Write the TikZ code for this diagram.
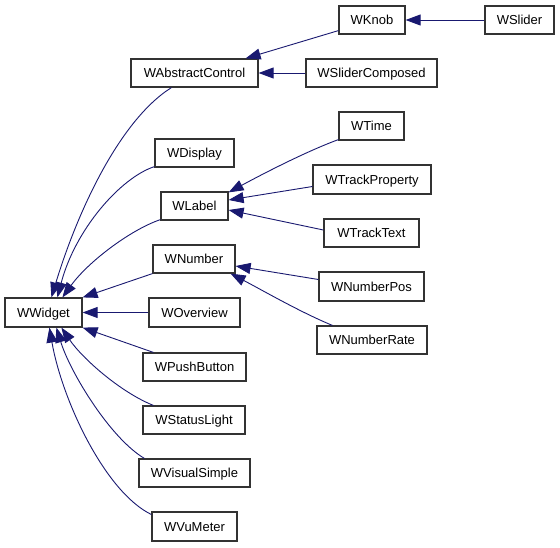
\documentclass[tikz,border=0pt]{standalone}
\usepackage{fontspec}
\setmainfont{Liberation Sans}
\usetikzlibrary{arrows.meta,calc}
\definecolor{edgeblue}{HTML}{191970}
\tikzset{
  cls/.style={draw=black!80, line width=1.2pt, fill=white, inner sep=0pt, text height=10.5pt, text depth=1.1pt, font=\fontsize{13}{15}\selectfont},
  inh/.style={draw=edgeblue, line width=0.9pt, -{Triangle[length=15pt,width=11pt]}, fill=none},
}
\newcommand{\cbox}[6]{% name, x1, y1, x2, y2, text
  \node[cls, minimum width={(#4-#2)*1pt}, minimum height={(#5-#3)*1pt}] (#1) at ({(#2+#4)/2},{(#3+#5)/2}) {#6};}
\begin{document}
\begin{tikzpicture}[x=1pt,y=-1pt]
\useasboundingbox (0,0) rectangle (560,547);
\cbox{WWidget}{5}{298}{82}{327}{WWidget}
\cbox{AC}{131}{59}{258}{87}{WAbstractControl}
\cbox{Disp}{155}{139}{234}{167}{WDisplay}
\cbox{Label}{161}{192}{228}{220}{WLabel}
\cbox{Number}{153}{245}{235}{273}{WNumber}
\cbox{Overview}{149}{298}{240}{327}{WOverview}
\cbox{Push}{143}{353}{246}{381}{WPushButton}
\cbox{Status}{143}{406}{245}{434}{WStatusLight}
\cbox{Visual}{139}{459}{250}{487}{WVisualSimple}
\cbox{Vu}{152}{512}{237}{541}{WVuMeter}
\cbox{Knob}{339}{6}{405}{34}{WKnob}
\cbox{Slider}{485}{6}{554}{34}{WSlider}
\cbox{SC}{306}{59}{437}{87}{WSliderComposed}
\cbox{Time}{339}{112}{404}{140}{WTime}
\cbox{TP}{313}{165}{431}{194}{WTrackProperty}
\cbox{TT}{324}{219}{419}{247}{WTrackText}
\cbox{NP}{319}{272}{424}{301}{WNumberPos}
\cbox{NR}{317}{326}{427}{354}{WNumberRate}

% top cluster
\draw[inh] (Slider.west) -- (Knob.east);
\draw[inh] ($(Knob.south west)+(0,-4)$) -- ($(AC.north east)+(-13,0)$);
\draw[inh] (SC.west) -- (AC.east);

% WLabel children
\draw[inh] ($(Time.south west)+(0,-1)$) .. controls (310,150) and (270,170) .. ($(Label.north east)+(0,1)$);
\draw[inh] ($(TP.west)+(0,7)$) -- ($(Label.east)+(0,-6)$);
\draw[inh] ($(TT.west)+(0,-3)$) -- ($(Label.east)+(0,4)$);

% WNumber children
\draw[inh] ($(NP.west)+(0,-7)$) -- ($(Number.east)+(0,7)$);
\draw[inh] ($(NR.north west)+(16,0)$) .. controls (300,312) and (262,290) .. ($(Number.south east)+(-5,0)$);

% WWidget children
\draw[inh] ($(AC.south west)+(41,0)$) .. controls (120,120) and (78,210) .. ($(WWidget.north west)+(47,0)$);
\draw[inh] ($(Disp.south west)+(0,-1)$) .. controls (120,178) and (75,230) .. ($(WWidget.north west)+(53,0)$);
\draw[inh] ($(Label.south west)+(0,-1)$) .. controls (130,230) and (88,262) .. ($(WWidget.north west)+(58,0)$);
\draw[inh] ($(Number.south west)+(0,0)$) -- (WWidget.north east);
\draw[inh] (Overview.west) -- (WWidget.east);
\draw[inh] ($(Push.north west)+(11,0)$) -- (WWidget.south east);
\draw[inh] ($(Status.north west)+(11,0)$) .. controls (120,392) and (82,358) .. ($(WWidget.south west)+(57,0)$);
\draw[inh] ($(Visual.north west)+(6,0)$) .. controls (110,438) and (70,372) .. ($(WWidget.south west)+(52,0)$);
\draw[inh] ($(Vu.west)+(0,-12)$) .. controls (105,492) and (62,400) .. ($(WWidget.south west)+(45,0)$);
\end{tikzpicture}
\end{document}
